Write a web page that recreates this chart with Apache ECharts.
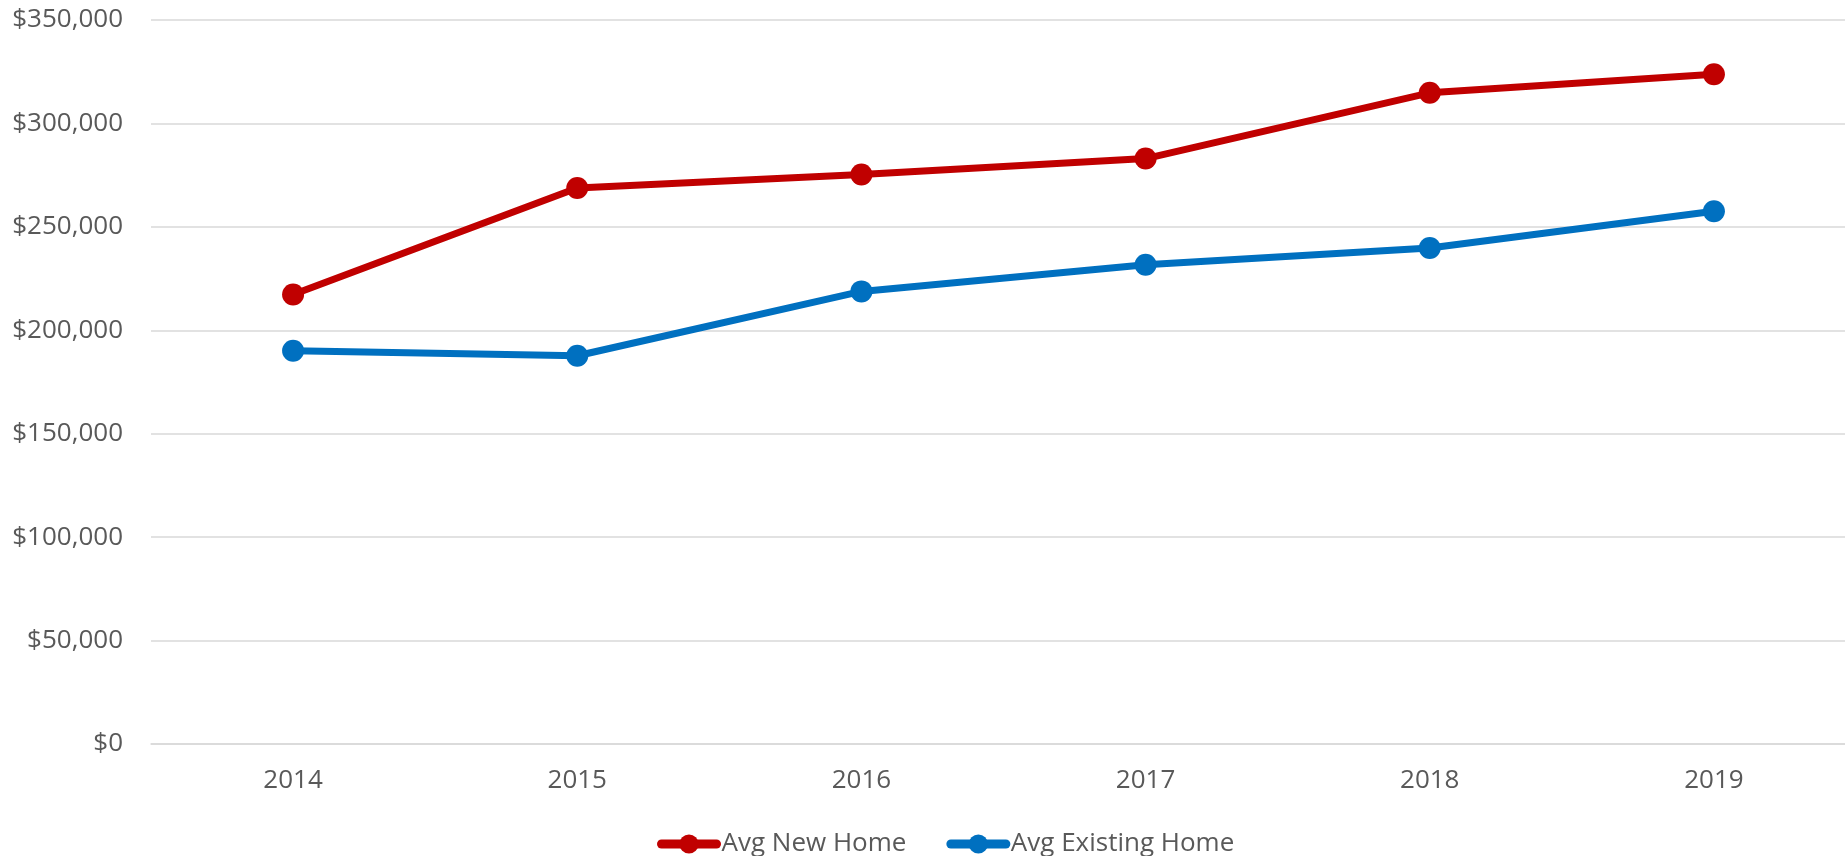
<!DOCTYPE html>
<html>
<head>
<meta charset="utf-8">
<title>Avg Home Price</title>
<script src="https://cdn.jsdelivr.net/npm/echarts@6/dist/echarts.min.js"></script>
<style>
  html, body { margin: 0; padding: 0; background: #fff; overflow: hidden; }
  /* plot area runs a bit past the right edge, like the cropped original */
  #main { width: 1856px; height: 856px; }
</style>
</head>
<body>
<div id="main"></div>
<script>
// 数据
var years = ["2014", "2015", "2016", "2017", "2018", "2019"];
var avgNewHome = [217300, 268800, 275300, 283000, 314800, 323800];
var avgExistingHome = [190100, 187700, 218800, 231700, 239800, 257500];
var yTicks = { min: 0, max: 350000, interval: 50000 };

var textColor = "#595959";
var font = "Open Sans";

var myChart = echarts.init(document.getElementById("main"));

function money(v) {
  return "$" + v.toString().replace(/\B(?=(\d{3})+(?!\d))/g, ",");
}

var option = {
  animation: false,
  grid: { left: 151, right: 0, top: 20, bottom: 112 },
  legend: {
    data: ["Avg New Home", "Avg Existing Home"],
    left: 652,
    top: 826,
    itemWidth: 55,
    itemHeight: 24,
    itemGap: 40,
    lineStyle: { width: 9, cap: "round" },
    textStyle: { color: textColor, fontSize: 26, fontFamily: font }
  },
  xAxis: {
    type: "category",
    data: years,
    boundaryGap: true,
    axisTick: { show: false },
    axisLine: { show: true, lineStyle: { color: "#D9D9D9", width: 1.5 } },
    axisLabel: { color: textColor, fontSize: 26, fontFamily: font, margin: 24 }
  },
  yAxis: {
    type: "value",
    min: yTicks.min,
    max: yTicks.max,
    interval: yTicks.interval,
    axisLine: { show: false },
    axisTick: { show: false },
    splitLine: { lineStyle: { color: "#D9D9D9", width: 1.5 } },
    axisLabel: {
      color: textColor, fontSize: 26, fontFamily: font, margin: 28,
      formatter: money
    }
  },
  series: [
    {
      name: "Avg New Home",
      type: "line",
      data: avgNewHome,
      symbol: "circle",
      symbolSize: 22,
      lineStyle: { color: "#C00000", width: 7 },
      itemStyle: { color: "#C00000" }
    },
    {
      name: "Avg Existing Home",
      type: "line",
      data: avgExistingHome,
      symbol: "circle",
      symbolSize: 22,
      lineStyle: { color: "#0070C0", width: 7 },
      itemStyle: { color: "#0070C0" }
    }
  ]
};

myChart.setOption(option);
</script>
</body>
</html>
